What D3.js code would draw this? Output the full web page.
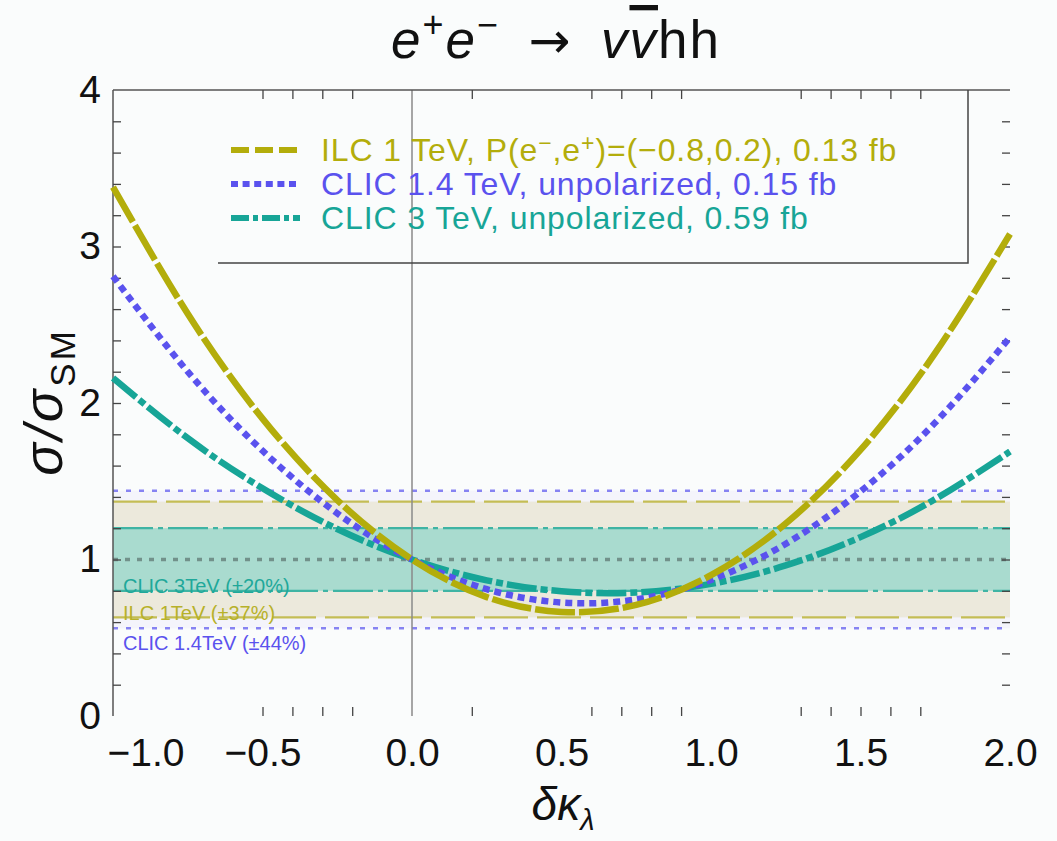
<!DOCTYPE html>
<html>
<head>
<meta charset="utf-8">
<script src="https://cdn.jsdelivr.net/npm/d3@7"></script>
<style>
  body { margin: 0; background: #fafcfc; }
  text { font-family: "Liberation Sans", Arial, sans-serif; }
</style>
</head>
<body>
<div id="viz"></div>
<script>
// values
var deltaK = [-1, -0.75, -0.5, -0.25, 0, 0.25, 0.5, 0.75, 1, 1.25, 1.5, 1.75, 2];
var ilc1TeV   = [3.38, 2.57, 1.90, 1.38, 1.00, 0.76, 0.665, 0.71, 0.90, 1.23, 1.70, 2.32, 3.08];
var clic14TeV = [2.81, 2.20, 1.695, 1.295, 1.00, 0.81, 0.725, 0.745, 0.87, 1.10, 1.435, 1.875, 2.42];
var clic3TeV  = [2.16, 1.775, 1.455, 1.195, 1.00, 0.867, 0.797, 0.789, 0.844, 0.962, 1.143, 1.386, 1.69];

// ^{..} marks a superscript
var seriesNames = ["ILC 1 TeV, P(e^{\u2212},e^{+})=(\u22120.8,0.2), 0.13 fb",
                   "CLIC 1.4 TeV, unpolarized, 0.15 fb",
                   "CLIC 3 TeV, unpolarized, 0.59 fb"];
var bandLabels = ["ILC 1TeV (\u00B137%)", "CLIC 1.4TeV (\u00B144%)", "CLIC 3TeV (\u00B120%)"];
var bandHalf   = [0.37, 0.44, 0.20];

var xTickLabels = [-1, -0.5, 0, 0.5, 1, 1.5, 2];
var xFrameTicks = [-0.5, -0.4, -0.3, -0.2, 0.2, 0.6, 0.7, 0.8, 0.9, 1.3, 1.4, 1.5, 1.6, 1.7];
var yTickLabels = [0, 1, 2, 3, 4];
var yFrameTicks = [0.2, 0.4, 0.6, 0.8, 1, 1.2, 1.4, 1.6, 1.8, 2, 2.2, 2.4, 2.6, 2.8, 3, 3.2, 3.4, 3.6, 3.8];

var colors = ["#b3ad0b", "#5a52ee", "#17a597"];
var curveDash  = ["40,4", "7,5", "30,4,7,4"];
var legendDash = ["18,6", "7,4.6", "18,4,5,4"];

var W = 1057, H = 841;
var svg = d3.select("#viz").append("svg").attr("width", W).attr("height", H);

var x = d3.scaleLinear().domain([-1, 2]).range([113, 1010]);
var y = d3.scaleLinear().domain([0, 4]).range([716, 90]);

// text with ^{..} superscripts; the shift back is put on the following piece
function richText(sel, str, supSize, supShift) {
  var back = 0;
  str.split(/(\^\{[^}]*\})/).forEach(function (part) {
    if (!part) return;
    if (part.indexOf("^{") === 0) {
      sel.append("tspan").attr("dy", back - supShift).style("font-size", supSize).text(part.slice(2, -1));
      back = supShift;
    } else {
      sel.append("tspan").attr("dy", back).text(part);
      back = 0;
    }
  });
}

// bands (widest first)
var bandOrder = [1, 0, 2];
var bandFill = ["#ece9dc", "#f4f4fb", "#a9dbcf"];
bandOrder.forEach(function (i) {
  svg.append("rect")
    .attr("x", x(-1)).attr("width", x(2) - x(-1))
    .attr("y", y(1 + bandHalf[i])).attr("height", y(1 - bandHalf[i]) - y(1 + bandHalf[i]))
    .style("fill", bandFill[i]);
});

var bandLine = [
  { c: "#c4bd55", d: "44,9", w: 2.2 },
  { c: "#8682f2", d: "5,8", w: 2.5 },
  { c: "#3fb4a4", d: "40,5,5,5", w: 2.2 }
];
bandOrder.forEach(function (i) {
  [1 + bandHalf[i], 1 - bandHalf[i]].forEach(function (v) {
    svg.append("line")
      .attr("x1", x(-1)).attr("x2", x(2)).attr("y1", y(v)).attr("y2", y(v))
      .style("stroke", bandLine[i].c).style("stroke-width", bandLine[i].w)
      .style("stroke-dasharray", bandLine[i].d);
  });
});

// SM line
svg.append("line")
  .attr("x1", x(-1)).attr("x2", x(2)).attr("y1", y(1)).attr("y2", y(1))
  .style("stroke", "#72918a").style("stroke-width", 3.5).style("stroke-dasharray", "5,7");

// band labels
var labelColors = ["#b7b12a", "#5a52ee", "#1fa89a"];
var labelBase = [620, 650, 593];
[2, 0, 1].forEach(function (i) {
  svg.append("text").attr("x", 123).attr("y", labelBase[i]).text(bandLabels[i])
    .style("font-size", "20px").style("fill", labelColors[i]);
});

// x = 0 line
svg.append("line")
  .attr("x1", x(0)).attr("x2", x(0)).attr("y1", y(4)).attr("y2", y(0))
  .style("stroke", "#8a8a8a").style("stroke-width", 1.5);

// frame: left + top lines, inward ticks on all sides
svg.append("line").attr("x1", x(-1)).attr("x2", x(-1)).attr("y1", y(4)).attr("y2", y(0))
  .style("stroke", "#555").style("stroke-width", 1.5);
svg.append("line").attr("x1", x(-1)).attr("x2", x(2)).attr("y1", y(4)).attr("y2", y(4))
  .style("stroke", "#555").style("stroke-width", 1.5);

function frameAxis(g) {
  g.select(".domain").remove();
  g.selectAll(".tick line").style("stroke", "#444").style("stroke-width", 1.3);
}
svg.append("g").attr("transform", "translate(" + x(-1) + ",0)")
  .call(d3.axisLeft(y).tickValues(yFrameTicks).tickSize(-8).tickFormat(""))
  .call(frameAxis);
svg.append("g").attr("transform", "translate(" + x(2) + ",0)")
  .call(d3.axisRight(y).tickValues(yFrameTicks).tickSize(-8).tickFormat(""))
  .call(frameAxis);
svg.append("g").attr("transform", "translate(0," + y(0) + ")")
  .call(d3.axisBottom(x).tickValues(xFrameTicks).tickSize(-9).tickFormat(""))
  .call(frameAxis);
svg.append("g").attr("transform", "translate(0," + y(4) + ")")
  .call(d3.axisTop(x).tickValues(xFrameTicks).tickSize(-9).tickFormat(""))
  .call(frameAxis);

// tick labels
var fmt = function (d) { return d3.format(".1f")(d).replace("-", "\u2212"); };
var xLab = svg.append("g").attr("transform", "translate(0," + y(0) + ")")
  .call(d3.axisBottom(x).tickValues(xTickLabels).tickSize(0).tickPadding(22).tickFormat(fmt));
xLab.select(".domain").remove();
xLab.selectAll("text").style("font-size", "39px").style("fill", "#111")
  .style("font-family", "'Liberation Sans', Arial, sans-serif");
// first label sits right of the corner, clear of the "0"
xLab.selectAll(".tick").filter(function (d) { return d === -1; })
  .select("text").attr("text-anchor", "start").attr("x", -6);

var yLab = svg.append("g").attr("transform", "translate(" + x(-1) + ",0)")
  .call(d3.axisLeft(y).tickValues(yTickLabels).tickSize(0).tickPadding(12).tickFormat(d3.format("d")));
yLab.select(".domain").remove();
yLab.selectAll("text").style("font-size", "39px").style("fill", "#111")
  .style("font-family", "'Liberation Sans', Arial, sans-serif");

// curves
var series = [ilc1TeV, clic14TeV, clic3TeV];
var line = d3.line()
  .x(function (d, i) { return x(deltaK[i]); })
  .y(function (d) { return y(d); })
  .curve(d3.curveNatural);
[2, 1, 0].forEach(function (i) {
  svg.append("path").datum(series[i]).attr("d", line)
    .style("fill", "none").style("stroke", colors[i]).style("stroke-width", 6.5)
    .style("stroke-dasharray", curveDash[i]);
});

// legend
svg.append("path")
  .attr("d", "M218,263H968V90")
  .style("fill", "none").style("stroke", "#444").style("stroke-width", 1.5);
var legendY = [150, 184, 218];
seriesNames.forEach(function (name, i) {
  svg.append("line").attr("x1", 231).attr("x2", 300)
    .attr("y1", legendY[i]).attr("y2", legendY[i])
    .style("stroke", colors[i]).style("stroke-width", 6).style("stroke-dasharray", legendDash[i]);
  var t = svg.append("text").attr("x", 321).attr("y", legendY[i] + 11)
    .style("font-size", "32px").style("letter-spacing", "0.9px").style("fill", colors[i]);
  richText(t, name, "23px", 10);
});

// title
var title = svg.append("text").attr("x", 556).attr("y", 58).attr("text-anchor", "middle")
  .style("font-size", "53px").style("letter-spacing", "2px").style("fill", "#111");
title.append("tspan").style("font-style", "italic").text("e");
title.append("tspan").attr("dy", -21).style("font-size", "36px").text("+");
title.append("tspan").attr("dy", 21).style("font-style", "italic").text("e");
title.append("tspan").attr("dy", -21).style("font-size", "36px").text("\u2212");
title.append("tspan").attr("dy", 21).text("\u2002");
title.append("tspan").style("font-family", "'DejaVu Sans'").style("font-size", "50px").text("\u2192");
title.append("tspan").text("\u2002");
title.append("tspan").style("font-style", "italic").text("v");
title.append("tspan").style("font-style", "italic").style("text-decoration", "overline").text("v");
title.append("tspan").text("hh");

// axis titles
var xt = svg.append("text").attr("x", 563).attr("y", 820).attr("text-anchor", "middle")
  .style("font-size", "46px").style("fill", "#111");
xt.append("tspan").style("font-style", "italic").text("\u03B4\u03BA");
xt.append("tspan").attr("dy", 10).style("font-size", "29px").style("font-style", "italic").text("\u03BB");

var yt = svg.append("text").attr("transform", "translate(62,402) rotate(-90)")
  .attr("text-anchor", "middle").style("font-size", "54px").style("letter-spacing", "3px")
  .style("fill", "#111");
yt.append("tspan").style("font-style", "italic").text("\u03C3/\u03C3");
yt.append("tspan").attr("dy", 13).style("font-size", "35px").text("SM");
</script>
</body>
</html>
